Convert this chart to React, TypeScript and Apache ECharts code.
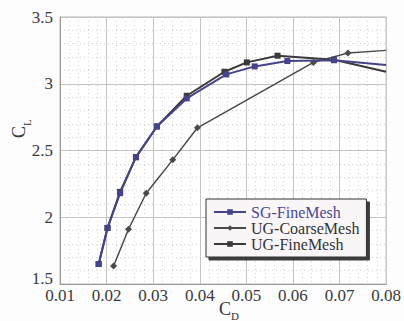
import React, { useEffect, useRef } from "react";
import * as echarts from "echarts";

const xTicks = [0.01, 0.02, 0.03, 0.04, 0.05, 0.06, 0.07, 0.08];
const yTicks = [1.5, 2, 2.5, 3, 3.5];

const cdSG = [0.0183, 0.0202, 0.0229, 0.0263, 0.0308, 0.0372, 0.0457, 0.0518, 0.0588, 0.0688, 0.08];
const clSG = [1.65, 1.92, 2.18, 2.45, 2.68, 2.89, 3.07, 3.13, 3.17, 3.176, 3.14];

const cdUGC = [0.0215, 0.0247, 0.0285, 0.0342, 0.0395, 0.0644, 0.0718, 0.08];
const clUGC = [1.635, 1.91, 2.18, 2.43, 2.67, 3.16, 3.23, 3.25];

const cdUGF = [0.0183, 0.0202, 0.0229, 0.0263, 0.0308, 0.0372, 0.0453, 0.0501, 0.0567, 0.0688, 0.08];
const clUGF = [1.65, 1.92, 2.19, 2.45, 2.68, 2.91, 3.09, 3.16, 3.21, 3.18, 3.09];

const names = ["SG-FineMesh", "UG-CoarseMesh", "UG-FineMesh"];

const SERIF = "Liberation Serif";

function toData(xs: number[], ys: number[]) {
  return xs.map((x, i) => {
    const item: any = { value: [x, ys[i]] };
    if (i === xs.length - 1 && x >= 0.08) item.symbol = "none";
    return item;
  });
}

export default function App() {
  const ref = useRef<HTMLDivElement>(null);
  useEffect(() => {
    if (!ref.current) return;
    const chart = echarts.init(ref.current, null, { renderer: "svg" });
    const blue = "#45448a";
    const dark = "#3a3a3a";
    const dark2 = "#4a4a4a";
    const lab = { fontFamily: SERIF, fontSize: 17, color: "#3a3a3a" };
    chart.setOption({
      animation: false,
      backgroundColor: "#fdfdfd",
      textStyle: { fontFamily: SERIF },
      grid: {
        left: 60,
        top: 17,
        width: 330,
        height: 267,
        show: true,
        borderColor: "#b8b8b8",
        borderWidth: 1,
        backgroundColor: "#ffffff",
      },
      xAxis: {
        type: "value",
        min: 0.01,
        max: 0.08,
        interval: 0.01,
        axisLine: { show: true, lineStyle: { color: "#999" } },
        axisTick: { show: false },
        axisLabel: {
          ...lab,
          margin: 3,
          formatter: (v: number) => {
            const s = v.toFixed(2);
            return xTicks.some((t) => t.toFixed(2) === s) ? `{a|${s}}` : "";
          },
          rich: { a: { ...lab } },
        },
        splitLine: { show: true, lineStyle: { color: "#c4c4c4", width: 1 } },
        minorTick: { show: false, splitNumber: 5 },
        minorSplitLine: { show: true, lineStyle: { color: "#d4d4d4", type: [1, 3], width: 1 } },
      },
      yAxis: {
        type: "value",
        min: 1.5,
        max: 3.5,
        interval: 0.5,
        axisLine: { show: true, lineStyle: { color: "#999" } },
        axisTick: { show: false },
        axisLabel: {
          ...lab,
          margin: 7,
          formatter: (v: number) => {
            const r = Math.round(v * 10) / 10;
            if (!yTicks.includes(r)) return "";
            return r === 1.5 ? "{lo|1.5}" : `{a|${r}}`;
          },
          rich: {
            a: { ...lab },
            lo: { ...lab, padding: [0, 0, 12, 0] },
          },
        },
        splitLine: { show: true, lineStyle: { color: "#c4c4c4", width: 1 } },
        minorTick: { show: false, splitNumber: 5 },
        minorSplitLine: { show: true, lineStyle: { color: "#d4d4d4", type: [1, 3], width: 1 } },
      },
      legend: {
        orient: "vertical",
        left: 206,
        top: 199,
        padding: [5, 7, 5, 7],
        itemGap: 0,
        itemWidth: 32,
        itemHeight: 7,
        backgroundColor: "#faf6f8",
        borderColor: "#333",
        borderWidth: 1,
        shadowColor: "rgba(40,40,40,0.9)",
        shadowBlur: 1,
        shadowOffsetX: 3,
        shadowOffsetY: 3,
        textStyle: { fontFamily: SERIF, fontSize: 16, color: "#333", lineHeight: 16 },
        data: [
          { name: names[0], textStyle: { color: "#4a4890", fontFamily: SERIF, fontSize: 16 } },
          { name: names[1] },
          { name: names[2] },
        ],
      },
      graphic: [
        {
          type: "text",
          x: 219,
          y: 300,
          style: { text: "C", fontFamily: SERIF, fontSize: 18, fill: "#333" },
        },
        {
          type: "text",
          x: 231,
          y: 310,
          style: { text: "D", fontFamily: SERIF, fontSize: 11, fill: "#333" },
        },
        {
          type: "text",
          x: 10,
          y: 138,
          rotation: Math.PI / 2,
          style: { text: "C", fontFamily: SERIF, fontSize: 18, fill: "#333" },
        },
        {
          type: "text",
          x: 21,
          y: 126,
          rotation: Math.PI / 2,
          style: { text: "L", fontFamily: SERIF, fontSize: 11, fill: "#333" },
        },
      ],
      series: [
        {
          name: names[0],
          type: "line",
          data: toData(cdSG, clSG),
          symbol: "rect",
          symbolSize: 6,
          z: 4,
          lineStyle: { color: blue, width: 2 },
          itemStyle: { color: blue },
        },
        {
          name: names[1],
          type: "line",
          data: toData(cdUGC, clUGC),
          symbol: "diamond",
          symbolSize: 7,
          z: 3,
          lineStyle: { color: dark2, width: 1.5 },
          itemStyle: { color: dark2 },
        },
        {
          name: names[2],
          type: "line",
          data: toData(cdUGF, clUGF),
          symbol: "rect",
          symbolSize: 6,
          z: 3,
          lineStyle: { color: dark, width: 2 },
          itemStyle: { color: dark },
        },
      ],
    });
    return () => chart.dispose();
  }, []);
  return (
    <div
      ref={ref}
      style={{ position: "fixed", left: 0, top: 0, width: 404, height: 321 }}
    />
  );
}
